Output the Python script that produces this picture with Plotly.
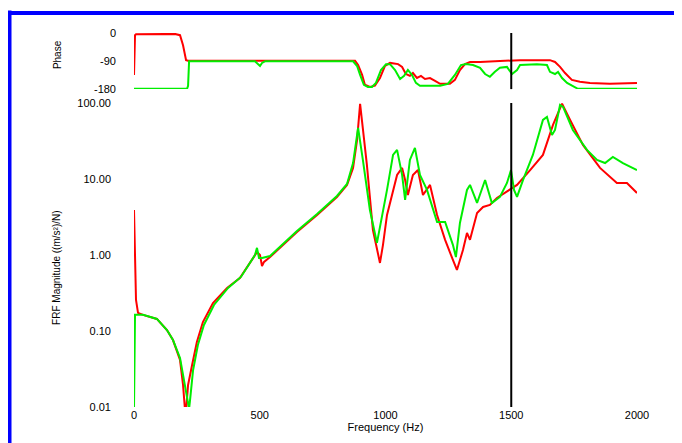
import plotly.graph_objects as go

# ---- data ----
mag_red_freq = [0, 8, 16, 36, 91, 131, 155, 183, 195, 203, 207, 215, 231, 250, 274, 314, 370, 421, 489, 501, 509, 517, 541,
                648, 728, 807, 847, 871, 887, 899, 907, 926, 950, 970, 978, 990, 1006, 1046, 1066, 1078, 1089, 1109, 1129,
                1149, 1177, 1205, 1237, 1268, 1284, 1308, 1324, 1336, 1364, 1388, 1415, 1443, 1495, 1523, 1575, 1626,
                1666, 1702, 1734, 1785, 1853, 1920, 1960, 2000]
mag_red = [3.91, 0.256, 0.173, 0.163, 0.144, 0.103, 0.076, 0.0415, 0.0195, 0.009, 0.009, 0.0195, 0.0357, 0.0716, 0.131,
           0.233, 0.368, 0.498, 1.09, 1.0, 0.716, 0.81, 0.94, 2.01, 3.36, 5.80, 8.34, 13.96, 32.6, 97, 56.2, 15.3, 2.13,
           1.0, 0.785, 1.36, 3.36, 11.3, 13.96, 9.70, 6.15, 11.3, 13.1, 6.15, 8.34, 3.36, 1.58, 0.86, 0.635, 1.16, 1.95,
           1.58, 3.57, 4.28, 4.55, 5.62, 7.17, 8.34, 13.1, 20.7, 51.4, 98, 59.7, 28.0, 13.96, 8.86, 8.86, 6.55]

mag_green_freq = [0, 4, 36, 91, 131, 155, 183, 199, 211, 219, 223, 235, 254, 278, 318, 374, 425, 481, 489, 497, 509, 541,
                  648, 728, 807, 847, 871, 891, 910, 938, 966, 978, 1006, 1030, 1046, 1066, 1078, 1097, 1117, 1137, 1165,
                  1205, 1237, 1268, 1280, 1296, 1324, 1336, 1364, 1396, 1423, 1455, 1483, 1499, 1511, 1523, 1547, 1586,
                  1626, 1642, 1662, 1674, 1694, 1706, 1745, 1801, 1841, 1873, 1904, 1944, 2000]
mag_green = [0.0095, 0.163, 0.163, 0.144, 0.103, 0.076, 0.0441, 0.0227, 0.0124, 0.0095, 0.0124, 0.0307, 0.0655, 0.120,
             0.220, 0.368, 0.514, 1.0, 1.24, 0.914, 0.914, 0.97, 2.07, 3.46, 5.97, 8.59, 16.2, 46.9, 17.8, 3.91, 1.44,
             2.26, 7.17, 20.7, 24.1, 11.3, 5.29, 17.8, 25.6, 11.3, 7.17, 2.72, 2.72, 1.36, 0.94, 2.64, 7.17, 8.34, 4.83,
             9.70, 4.83, 5.80, 8.86, 13.1, 7.17, 5.80, 9.70, 20.7, 59.7, 65.4, 37.9, 44.1, 94, 88.6, 44.1, 24.1, 17.8,
             16.2, 19.5, 16.2, 13.1]

phase_red_freq = [0, 4, 8, 64, 163, 183, 195, 207, 215, 879, 891, 907, 918, 938, 958, 978, 998, 1018, 1050, 1066, 1081,
                  1097, 1109, 1125, 1141, 1157, 1177, 1197, 1217, 1256, 1276, 1296, 1316, 1336, 1376, 1535, 1654, 1674,
                  1694, 1714, 1741, 1773, 1813, 1892, 1952, 2000]
phase_red = [-135, -6, -3, -2, -2, -6, -39, -87, -89, -89, -103, -135, -167, -174, -170, -145, -106, -96, -100, -109, -132,
             -138, -129, -145, -138, -148, -145, -154, -164, -164, -151, -119, -100, -93, -93, -87, -87, -93, -109, -129,
             -151, -157, -161, -164, -161, -161]

phase_green_freq = [0, 211, 215, 219, 481, 493, 501, 509, 521, 871, 887, 899, 914, 930, 946, 962, 982, 1002, 1018, 1038,
                    1058, 1074, 1089, 1105, 1121, 1137, 1217, 1248, 1276, 1300, 1320, 1348, 1376, 1396, 1415, 1435, 1455,
                    1483, 1503, 1523, 1535, 1602, 1642, 1654, 1674, 1686, 1702, 1722, 1741, 1765, 2000]
phase_green = [-180, -180, -170, -91, -91, -100, -106, -96, -91, -91, -106, -135, -167, -174, -174, -161, -119, -100, -100,
               -119, -148, -138, -119, -135, -161, -170, -170, -164, -135, -103, -100, -103, -112, -132, -141, -125, -112,
               -109, -132, -119, -103, -100, -103, -125, -132, -125, -145, -161, -170, -180, -180]

marker_freq = 1500
x_ticks = [0, 500, 1000, 1500, 2000]
mag_ticks = [0.01, 0.1, 1, 10, 100]
mag_tick_text = ["0.01", "0.10", "1.00", "10.00", "100.00"]
phase_ticks = [0, -90, -180]
phase_tick_text = ["0", "-90", "-180"]

RED = "#ff0000"
GREEN = "#00ee00"
FONT = "Liberation Sans"

fig = go.Figure()
fig.add_trace(go.Scatter(x=mag_red_freq, y=mag_red, mode="lines", line=dict(color=RED, width=2),
                         xaxis="x", yaxis="y", showlegend=False))
fig.add_trace(go.Scatter(x=mag_green_freq, y=mag_green, mode="lines", line=dict(color=GREEN, width=2),
                         xaxis="x", yaxis="y", showlegend=False))
fig.add_trace(go.Scatter(x=phase_red_freq, y=phase_red, mode="lines", line=dict(color=RED, width=2),
                         xaxis="x2", yaxis="y2", showlegend=False))
fig.add_trace(go.Scatter(x=phase_green_freq, y=phase_green, mode="lines", line=dict(color=GREEN, width=2),
                         xaxis="x2", yaxis="y2", showlegend=False))

tickfont = dict(family=FONT, size=11, color="black")

fig.update_layout(
    width=682, height=443,
    margin=dict(l=126, r=53, t=25, b=44, autoexpand=False),
    paper_bgcolor="white", plot_bgcolor="white",
    font=dict(family=FONT, size=11, color="black"),
    xaxis=dict(domain=[0, 1], anchor="y", range=[0, 2000], tickvals=x_ticks, ticks="", automargin=False,
               showgrid=False, zeroline=False, showline=False, tickfont=tickfont,
               title=dict(text="Frequency (Hz)", font=dict(family=FONT, size=11), standoff=0)),
    yaxis=dict(domain=[0, 0.813], anchor="x", type="log", range=[-2, 2], tickvals=mag_ticks, automargin=False,
               ticktext=mag_tick_text, ticks="", showgrid=False, zeroline=False, showline=False,
               tickfont=tickfont, ticklabelstandoff=22),
    xaxis2=dict(domain=[0, 1], anchor="y2", range=[0, 2000], matches="x", showticklabels=False, ticks="",
                showgrid=False, zeroline=False, showline=False, automargin=False),
    yaxis2=dict(domain=[0.85, 1], anchor="x2", range=[-181, 1], tickvals=phase_ticks, ticktext=phase_tick_text,
                ticks="", showgrid=False, zeroline=False, showline=False, tickfont=tickfont, automargin=False,
                ticklabelstandoff=17),
)

# vertical marker line in both panels
fig.add_shape(type="line", xref="x", yref="y domain", x0=marker_freq, x1=marker_freq, y0=0, y1=1,
              line=dict(color="black", width=2))
fig.add_shape(type="line", xref="x2", yref="y2 domain", x0=marker_freq, x1=marker_freq, y0=0, y1=1,
              line=dict(color="black", width=2))

# y axis titles
fig.add_annotation(text="Phase", xref="paper", yref="paper", x=-0.153, y=0.941, textangle=-90,
                   xanchor="center", yanchor="middle",
                   showarrow=False, font=dict(family=FONT, size=10, color="black"))
fig.add_annotation(text="FRF Magnitude ((m/s²)/N)", xref="paper", yref="paper", x=-0.153, y=0.372, textangle=-90,
                   xanchor="center", yanchor="middle",
                   showarrow=False, font=dict(family=FONT, size=10, color="black"))

# blue frame (left & top)
fig.add_shape(type="line", xref="paper", yref="paper", x0=-0.2475, x1=-0.2475, y0=1.06, y1=-0.2,
              line=dict(color="#0000ff", width=4))
fig.add_shape(type="line", xref="paper", yref="paper", x0=-0.2515, x1=1.2, y0=1.0535, y1=1.0535,
              line=dict(color="#0000ff", width=4))

fig.write_html("out.html")
